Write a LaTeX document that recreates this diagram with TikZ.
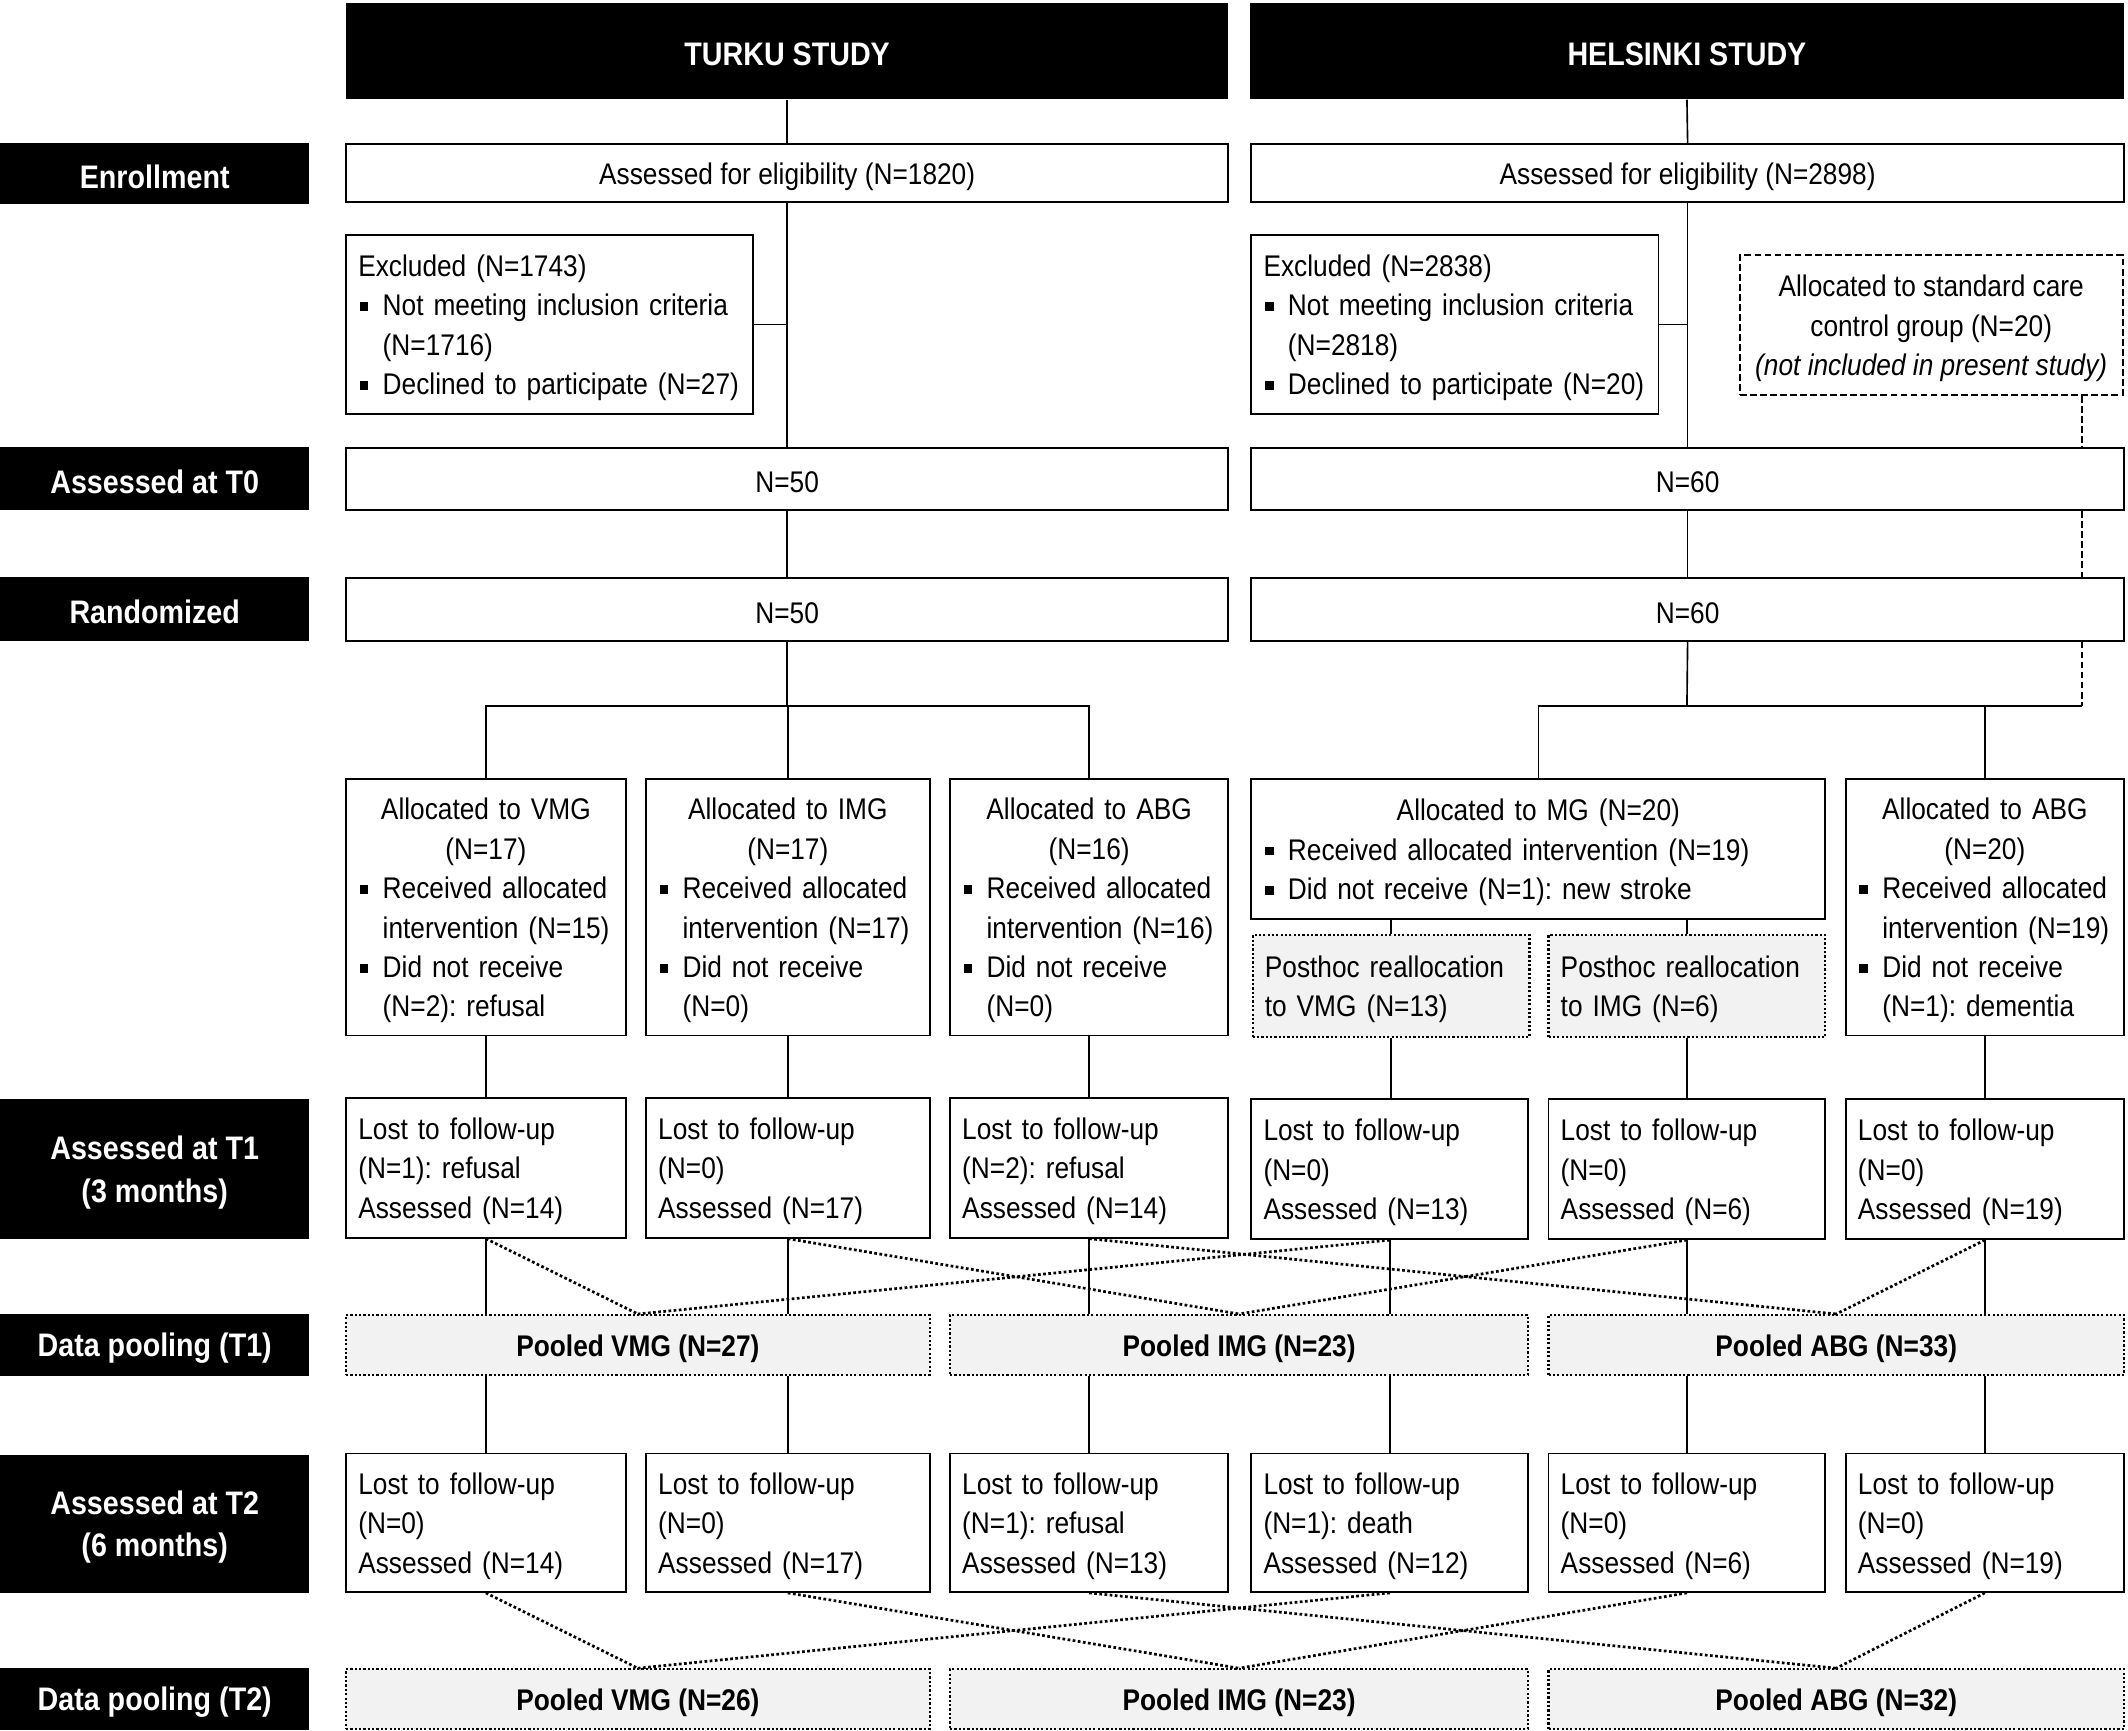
\documentclass[tikz,border=0pt]{standalone}
\usepackage{fontspec}
\setmainfont[FakeStretch=0.88]{Liberation Sans}
\definecolor{poolgray}{HTML}{F2F2F2}
\newcommand\mkbox[7]{%
  \pgfmathsetmacro\bw{(#4-#2)*0.5}%
  \pgfmathsetmacro\bh{(#5-#3)*0.5}%
  \pgfmathsetmacro\tw{(#4-#2)*0.5-9}%
  \node[#6, minimum width=\bw pt, minimum height=\bh pt] (#1) at ({(#2+#4)/2},{(#3+#5)/2}) {};
  \node[#6, draw=none, fill=none] (#1t) at ([yshift=-1.25pt]#1.center) {#7};}
\newcommand\bul[1]{\makebox[9pt][l]{\hspace{0.5pt}\raisebox{1.75pt}{\rule{3.2pt}{3.2pt}}}\mbox{#1}}
\newcommand\hin[1]{\hspace*{9pt}\mbox{#1}}
\newcommand\ctr[1]{\makebox[\linewidth][c]{#1}}
\begin{document}
\frenchspacing
\begin{tikzpicture}[x=0.5pt,y=-0.5pt,
  box/.style={draw, line width=0.7pt, fill=white, inner xsep=4.5pt, inner ysep=0pt,
    font=\fontsize{11}{14.5}\selectfont},
  cbox/.style={box, align=center},
  lbox/.style={box, align=left, text width=\tw pt},
  label/.style={fill=black, text=white, inner sep=0pt, align=center,
    font=\fontsize{12}{15.5}\selectfont\bfseries},
  pool/.style={box, line width=0.8pt, fill=poolgray, dash pattern=on 0.8pt off 0.8pt, align=center,
    font=\fontsize{11}{14.5}\selectfont\bfseries},
  post/.style={lbox, line width=0.8pt, fill=poolgray, dash pattern=on 0.8pt off 0.8pt},
  scbox/.style={box, dash pattern=on 2.5pt off 1.2pt, align=center},
  link/.style={line width=0.6pt},
  pl/.style={line width=1pt, dash pattern=on 1pt off 0.9pt},
  dl/.style={line width=0.6pt, dash pattern=on 2.5pt off 1.2pt}]
\useasboundingbox[fill=white] (0,0) rectangle (1568,1275);

% headers
\mkbox{th}{255}{2}{905}{73}{label}{TURKU STUDY}
\mkbox{hh}{921}{2}{1565}{73}{label}{HELSINKI STUDY}

% row labels
\mkbox{lEn}{0}{105}{228}{150}{label}{Enrollment}
\mkbox{lT0}{0}{329}{228}{376}{label}{Assessed at T0}
\mkbox{lRa}{0}{425}{228}{472}{label}{Randomized}
\mkbox{lT1}{0}{810}{228}{913}{label}{Assessed at T1\\(3 months)}
\mkbox{lP1}{0}{968}{228}{1014}{label}{Data pooling (T1)}
\mkbox{lT2}{0}{1072}{228}{1174}{label}{Assessed at T2\\(6 months)}
\mkbox{lP2}{0}{1229}{228}{1275}{label}{Data pooling (T2)}

% Turku
\mkbox{te}{255}{106}{905}{149}{cbox}{Assessed for eligibility (N=1820)}
\mkbox{tx}{255}{173}{555}{305}{lbox}{\mbox{Excluded (N=1743)}\\\bul{Not meeting inclusion criteria}\\\hin{(N=1716)}\\\bul{Declined to participate (N=27)}}
\mkbox{t0}{255}{330}{905}{376}{cbox}{N=50}
\mkbox{tr}{255}{426}{905}{472}{cbox}{N=50}
\mkbox{tv}{255}{574}{461}{763}{lbox}{\ctr{Allocated to VMG}\\\ctr{(N=17)}\\\bul{Received allocated}\\\hin{intervention (N=15)}\\\bul{Did not receive}\\\hin{(N=2): refusal}}
\mkbox{ti}{476}{574}{685}{763}{lbox}{\ctr{Allocated to IMG}\\\ctr{(N=17)}\\\bul{Received allocated}\\\hin{intervention (N=17)}\\\bul{Did not receive}\\\hin{(N=0)}}
\mkbox{ta}{700}{574}{905}{763}{lbox}{\ctr{Allocated to ABG}\\\ctr{(N=16)}\\\bul{Received allocated}\\\hin{intervention (N=16)}\\\bul{Did not receive}\\\hin{(N=0)}}
\mkbox{t1v}{255}{809}{461}{912}{lbox}{\mbox{Lost to follow-up}\\\mbox{(N=1): refusal}\\\mbox{Assessed (N=14)}}
\mkbox{t1i}{476}{809}{685}{912}{lbox}{\mbox{Lost to follow-up}\\\mbox{(N=0)}\\\mbox{Assessed (N=17)}}
\mkbox{t1a}{700}{809}{905}{912}{lbox}{\mbox{Lost to follow-up}\\\mbox{(N=2): refusal}\\\mbox{Assessed (N=14)}}

% Helsinki
\mkbox{he}{922}{106}{1565}{149}{cbox}{Assessed for eligibility (N=2898)}
\mkbox{hx}{922}{173}{1222}{305}{lbox}{\mbox{Excluded (N=2838)}\\\bul{Not meeting inclusion criteria}\\\hin{(N=2818)}\\\bul{Declined to participate (N=20)}}
\mkbox{hsc}{1282}{188}{1564}{291}{scbox}{Allocated to standard care\\control group (N=20)\\\textit{(not included in present study)}}
\mkbox{h0}{922}{330}{1565}{376}{cbox}{N=60}
\mkbox{hr}{922}{426}{1565}{472}{cbox}{N=60}
\mkbox{hm}{922}{574}{1345}{677}{lbox}{\ctr{Allocated to MG (N=20)}\\\bul{Received allocated intervention (N=19)}\\\bul{Did not receive (N=1): new stroke}}
\mkbox{hab}{1360}{574}{1565}{763}{lbox}{\ctr{Allocated to ABG}\\\ctr{(N=20)}\\\bul{Received allocated}\\\hin{intervention (N=19)}\\\bul{Did not receive}\\\hin{(N=1): dementia}}
\mkbox{hpv}{923}{689}{1127}{764}{post}{\mbox{Posthoc reallocation}\\\mbox{to VMG (N=13)}}
\mkbox{hpi}{1141}{689}{1345}{764}{post}{\mbox{Posthoc reallocation}\\\mbox{to IMG (N=6)}}
\mkbox{t1hv}{922}{810}{1126}{913}{lbox}{\mbox{Lost to follow-up}\\\mbox{(N=0)}\\\mbox{Assessed (N=13)}}
\mkbox{t1hi}{1141}{810}{1345}{913}{lbox}{\mbox{Lost to follow-up}\\\mbox{(N=0)}\\\mbox{Assessed (N=6)}}
\mkbox{t1ha}{1360}{810}{1565}{913}{lbox}{\mbox{Lost to follow-up}\\\mbox{(N=0)}\\\mbox{Assessed (N=19)}}

% pooled T1
\mkbox{pv1}{255}{969}{685}{1013}{pool}{Pooled VMG (N=27)}
\mkbox{pi1}{700}{969}{1126}{1013}{pool}{Pooled IMG (N=23)}
\mkbox{pa1}{1141}{969}{1565}{1013}{pool}{Pooled ABG (N=33)}

% T2
\mkbox{t2v}{255}{1071}{461}{1173}{lbox}{\mbox{Lost to follow-up}\\\mbox{(N=0)}\\\mbox{Assessed (N=14)}}
\mkbox{t2i}{476}{1071}{685}{1173}{lbox}{\mbox{Lost to follow-up}\\\mbox{(N=0)}\\\mbox{Assessed (N=17)}}
\mkbox{t2a}{700}{1071}{905}{1173}{lbox}{\mbox{Lost to follow-up}\\\mbox{(N=1): refusal}\\\mbox{Assessed (N=13)}}
\mkbox{t2hv}{922}{1071}{1126}{1173}{lbox}{\mbox{Lost to follow-up}\\\mbox{(N=1): death}\\\mbox{Assessed (N=12)}}
\mkbox{t2hi}{1141}{1071}{1345}{1173}{lbox}{\mbox{Lost to follow-up}\\\mbox{(N=0)}\\\mbox{Assessed (N=6)}}
\mkbox{t2ha}{1360}{1071}{1565}{1173}{lbox}{\mbox{Lost to follow-up}\\\mbox{(N=0)}\\\mbox{Assessed (N=19)}}

% pooled T2
\mkbox{pv2}{255}{1230}{685}{1274}{pool}{Pooled VMG (N=26)}
\mkbox{pi2}{700}{1230}{1126}{1274}{pool}{Pooled IMG (N=23)}
\mkbox{pa2}{1141}{1230}{1565}{1274}{pool}{Pooled ABG (N=32)}

% branch points
\coordinate (tb) at (580,520);
\coordinate (hb) at (1243,520);
\coordinate (hd) at (1534,520);

% Turku connectors
\draw[link] (th.south) -- (te.north);
\draw[link] (te.south) -- (t0.north);
\draw[link] (tx.east) -- (tx.east -| te.south);
\draw[link] (t0.south) -- (tr.north);
\draw[link] (tr.south) -- (tb);
\draw[link] (tv.north) |- (tb);
\draw[link] (ta.north) |- (tb);
\draw[link] (ti.north) -- (ti.north |- tb);
\draw[link] (tv.south) -- (t1v.north);
\draw[link] (ti.south) -- (t1i.north);
\draw[link] (ta.south) -- (t1a.north);

% Helsinki connectors
\draw[link] (hh.south) -- (he.north);
\draw[link] (he.south) -- (h0.north);
\draw[link] (hx.east) -- (hx.east -| he.south);
\draw[link] (h0.south) -- (hr.north);
\draw[link] (hr.south) -- (hb);
\draw[link] (hm.north) |- (hd);
\draw[link] (hab.north) -- (hab.north |- hd);
\draw[dl] (hd |- hsc.south) -- (hd |- h0.north);
\draw[dl] (hd |- h0.south) -- (hd |- hr.north);
\draw[dl] (hd |- hr.south) -- (hd);
\draw[link] (hpv.north) -- (hpv.north |- hm.south);
\draw[link] (hpi.north) -- (hpi.north |- hm.south);
\draw[link] (hpv.south) -- (hpv.south |- t1hv.north);
\draw[link] (hpi.south) -- (hpi.south |- t1hi.north);
\draw[link] (hab.south) -- (t1ha.north);

% T1 to pooled, pooled to T2
\foreach \n in {t1v,t1i,t1a,t1hv,t1hi,t1ha}
  \draw[link] (\n.south) -- (\n.south |- pv1.north);
\foreach \n in {t2v,t2i,t2a,t2hv,t2hi,t2ha}
  \draw[link] (\n.north) -- (\n.north |- pv1.south);

% dotted pooling lines
\draw[pl] (t1v.south) -- (pv1.north);
\draw[pl] (t1hv.south) -- (pv1.north);
\draw[pl] (t1i.south) -- (pi1.north);
\draw[pl] (t1hi.south) -- (pi1.north);
\draw[pl] (t1a.south) -- (pa1.north);
\draw[pl] (t1ha.south) -- (pa1.north);
\draw[pl] (t2v.south) -- (pv2.north);
\draw[pl] (t2hv.south) -- (pv2.north);
\draw[pl] (t2i.south) -- (pi2.north);
\draw[pl] (t2hi.south) -- (pi2.north);
\draw[pl] (t2a.south) -- (pa2.north);
\draw[pl] (t2ha.south) -- (pa2.north);
\end{tikzpicture}
\end{document}
